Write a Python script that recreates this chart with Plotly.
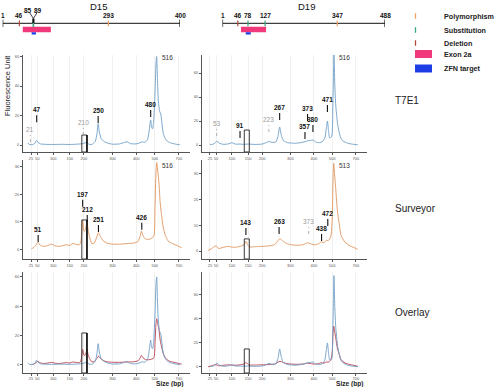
import numpy as np
import plotly.graph_objects as go

W, H = 499, 387

# ---------------- size ladder (bp -> migration position on the trace axis) ----------------
ladder_bp = [10, 15, 25, 50, 100, 150, 200, 300, 400, 500, 700, 1000]
ladder_pos = [-1.0, 1.0, 4.8, 8.5, 18.1, 28.0, 36.4, 53.6, 67.8, 78.9, 93.3, 110.0]
size_ticks = [25, 50, 100, 150, 200, 300, 400, 500, 700]
size_tick_text = ["25", "50", "100", "150", "200", "300", "400", "500", "700"]

# ---------------- traces (size bp, fluorescence units) ----------------
t7_d15_bp = [20, 22, 25, 30, 40, 47, 52, 60, 75, 100, 125, 150, 175, 190, 200, 210, 218, 228, 240, 246,
             250, 254, 260, 270, 285, 300, 330, 350, 362, 375, 400, 420, 432, 445, 460, 468, 474, 478, 483, 488,
             494, 502, 510, 516, 522, 530, 540, 550, 558, 568, 580, 600, 630, 670, 710]
t7_d15_fu = [1.5, 0.5, 0.3, 0.3, 1.0, 3.2, 2.0, 0.8, 0.5, 0.4, 0.5, 0.4, 0.6, 0.8, 1.2, 1.8, 0.6, 0.4, 2.5, 8,
             14.5, 9, 4.5, 2.5, 1.2, 0.6, 0.8, 1.8, 2.2, 1.0, 0.8, 1.5, 2.2, 1.8, 3.5, 8, 14, 17, 12, 11,
             16, 35, 55, 60, 45, 30, 23, 21, 16, 9, 5.5, 3, 1.5, 0.7, 0.2]

t7_d19_bp = [25, 35, 45, 53, 60, 75, 90, 100, 110, 125, 135, 150, 175, 200, 215, 224, 235, 248, 256, 262,
             268, 276, 290, 320, 345, 362, 373, 385, 396, 410, 430, 448, 460, 468, 474, 480, 486, 497, 505, 510,
             515, 522, 530, 545, 558, 572, 590, 630, 680, 720]
t7_d19_fu = [0.5, 0.5, 1.5, 3.3, 1.5, 0.6, 1.0, 2.0, 0.8, 0.8, 0.6, 0.8, 0.5, 0.8, 2.0, 3.0, 2.2, 2.5, 7, 15,
             8, 3.5, 2.0, 1.5, 2.0, 2.8, 3.5, 3.8, 4.2, 2.5, 2.0, 3.0, 6, 14, 20, 12, 6, 7, 30, 55,
             76, 50, 33, 18, 11, 6, 3.5, 1.5, 0.6, 0.2]

sv_d15_bp = [27, 35, 45, 52, 58, 68, 80, 95, 105, 120, 140, 150, 160, 170, 180, 188, 192, 196, 201, 206,
             211, 215, 220, 228, 236, 244, 251, 258, 268, 280, 300, 330, 360, 390, 410, 420, 428, 436, 448, 465,
             485, 496, 502, 510, 516, 528, 535, 545, 555, 570, 588, 610, 648, 700, 730]
sv_d15_fu = [0.2, 0.5, 1.5, 2.5, 1.6, 1.0, 1.2, 1.8, 1.2, 1.0, 1.6, 1.3, 2.0, 1.8, 1.5, 2.0, 5, 10.5, 6.5, 7,
             10.5, 7, 4.5, 2.0, 2.2, 4.0, 6.0, 4.5, 3.0, 2.2, 1.8, 1.8, 2.0, 2.2, 2.8, 4.5, 6.5, 5.0, 3.8, 3.5,
             4.0, 5, 15, 28, 31.5, 27, 24, 17, 13, 8, 5, 3, 2, 1, 0.5]

sv_d19_bp = [22, 30, 40, 50, 58, 75, 90, 100, 115, 130, 138, 143, 148, 155, 165, 180, 200, 225, 245, 256,
             263, 272, 285, 300, 330, 355, 373, 385, 410, 430, 440, 455, 468, 478, 492, 500, 507, 513, 520, 530,
             545, 558, 575, 608, 650, 700, 720]
sv_d19_fu = [0.2, 0.8, 1.5, 2.0, 1.0, 1.5, 1.8, 1.5, 1.5, 2.0, 2.5, 3.8, 2.5, 1.5, 1.6, 1.7, 1.8, 2.0, 2.5, 4.0,
             4.8, 4.0, 3.0, 2.5, 2.2, 2.5, 3.2, 2.8, 2.4, 3.0, 3.6, 3.2, 4.2, 4.0, 5.5, 12, 28, 34, 30, 24,
             15, 11, 6, 3.4, 2, 1, 0.6]

# ---------------- peak labels: text, size (bp), marker base (FU), grey? ----------------
lab_t7_d15 = [("21", 24, 2.0, True), ("47", 48, 15.5, False), ("210", 198, 6.8, True),
              ("250", 250, 14.9, False), ("480", 478, 19.0, False)]
lab_t7_d19 = [("53", 52, 7.5, True), ("91", 125, 5.8, False), ("223", 224, 10.8, True),
              ("267", 262, 20.8, False), ("357", 362, 5.0, False), ("373", 373, 20.0, False),
              ("380", 396, 10.8, False), ("471", 474, 27.5, False)]
lab_sv_d15 = [("51", 53, 2.6, False), ("197", 196, 15.4, False), ("212", 212, 9.9, False),
              ("251", 251, 6.2, False), ("426", 430, 7.0, False)]
lab_sv_d19 = [("143", 143, 6.2, False), ("263", 260, 6.6, False), ("373", 378, 6.6, True),
              ("438", 442, 3.9, False), ("472", 476, 9.7, False)]
top_peak = {1: ("516", 516, 59), 2: ("516", 516, 73), 3: ("516", 516, 30.4), 4: ("513", 513, 33)}

# ZFN cut-site window (bp) and box heights (FU) per panel
box_d15_bp = [193, 211]
box_d19_bp = [138, 154]
box_top = {1: 6.8, 2: 12.5, 3: 10.6, 4: 4.7, 5: 21.8, 6: 15.0}

# ---------------- amplicon schematics ----------------
d15_nt_scale = [1, 46, 87, 293, 400]
d15_draw_scale = [0, 9.4, 17.3, 59.6, 100]
d15_sites = [(46, "del"), (293, "poly")]
d15_exon = [56, 135]
d15_zfn = [82, 94]
d15_labels = ["1", "46", "293", "400"]
d15_label_nt = [1, 46, 293, 400]

d19_nt_scale = [1, 46, 78, 127, 347, 488]
d19_draw_scale = [0, 9.4, 15.7, 26.2, 70.6, 100]
d19_sites = [(46, "del"), (78, "sub"), (127, "sub"), (347, "poly")]
d19_exon = [56, 130]
d19_zfn = [71, 86]
d19_labels = ["1", "46", "78", "127", "347", "488"]
d19_label_nt = [1, 46, 78, 127, 347, 488]

C_T7 = "#6e9ec6"
C_SV = "#e0955c"
C_OV_RED = "#b8404f"
C_POLY = "#f0a264"
C_SUB = "#3aa87a"
C_DEL = "#b24a3c"
C_EXON = "#f0387a"
C_ZFN = "#1c3de6"
SITE_COL = {"poly": C_POLY, "sub": C_SUB, "del": C_DEL}
FONT = "Liberation Sans, Arial, sans-serif"


def pos(bp):
    return np.interp(bp, ladder_bp, ladder_pos)


def pxx(x):
    return x / W


def pxy(y):
    return 1 - y / H


def paper_text(x, y, text, size, color="#222", xanchor="center", **kw):
    return dict(x=pxx(x), y=pxy(y), xref="paper", yref="paper", text=text, showarrow=False,
                xanchor=xanchor, yanchor="middle", font=dict(size=size, color=color, family=FONT), **kw)


fig = go.Figure()

# panel geometry (pixels)
col_x = {0: (23, 190), 1: (202, 367)}
row_y = {0: (55, 152), 1: (160, 259), 2: (272, 373)}
yranges = {1: [-4.7, 61], 2: [-5.8, 75], 3: [-3.6, 32.4], 4: [-3.1, 35.3], 5: [-5.5, 63.4], 6: [-5, 79]}
yticks = {1: [0, 20, 40, 60], 2: [0, 20, 40, 60], 3: [0, 10, 20, 30], 4: [0, 10, 20, 30],
          5: [0, 20, 40, 60], 6: [0, 20, 40, 60]}

panels = {
    1: [(t7_d15_bp, t7_d15_fu, C_T7)],
    2: [(t7_d19_bp, t7_d19_fu, C_T7)],
    3: [(sv_d15_bp, sv_d15_fu, C_SV)],
    4: [(sv_d19_bp, sv_d19_fu, C_SV)],
    5: [(sv_d15_bp, sv_d15_fu, C_OV_RED), (t7_d15_bp, t7_d15_fu, C_T7)],
    6: [(sv_d19_bp, sv_d19_fu, C_OV_RED), (t7_d19_bp, t7_d19_fu, C_T7)],
}
labels = {1: lab_t7_d15, 2: lab_t7_d19, 3: lab_sv_d15, 4: lab_sv_d19}

layout = dict(width=W, height=H, margin=dict(l=0, r=0, t=0, b=0),
              paper_bgcolor="white", plot_bgcolor="white", showlegend=False,
              font=dict(family=FONT))
shapes = []
annotations = []

for i in range(1, 7):
    r = (i - 1) // 2
    c = (i - 1) % 2
    xs = "" if i == 1 else str(i)
    x0p, x1p = col_x[c]
    y0p, y1p = row_y[r]
    layout["xaxis" + xs] = dict(domain=[pxx(x0p), pxx(x1p)], range=[0, 100], anchor="y" + xs,
                                tickvals=list(pos(size_ticks)), ticktext=size_tick_text, tickangle=0,
                                showline=True, linecolor="#555", linewidth=1, ticks="outside",
                                ticklen=2, tickcolor="#555", tickfont=dict(size=4, color="#555"),
                                ticklabelstandoff=-1 if r == 2 else 0,
                                showgrid=True, gridcolor="#f0f0f0", gridwidth=1, zeroline=False)
    layout["yaxis" + xs] = dict(domain=[pxy(y1p), pxy(y0p)], range=yranges[i], anchor="x" + xs,
                                tickvals=yticks[i], showline=True, linecolor="#555", linewidth=1,
                                ticks="outside", ticklen=2, tickcolor="#555",
                                tickfont=dict(size=4, color="#555"), showgrid=False, zeroline=False)
    for bp, fu, col in panels[i]:
        fig.add_trace(go.Scatter(x=pos(bp), y=fu, mode="lines", xaxis="x" + xs, yaxis="y" + xs,
                                 line=dict(color=col, width=0.9, shape="spline", smoothing=0.6),
                                 hoverinfo="skip"))
    # ZFN box
    bb = box_d15_bp if c == 0 else box_d19_bp
    shapes.append(dict(type="rect", xref="x" + xs, yref="y" + xs, x0=float(pos(bb[0])),
                       x1=float(pos(bb[1])), y0=yranges[i][0], y1=box_top[i],
                       line=dict(color="#222", width=0.9)))
    if c == 0:
        shapes.append(dict(type="line", xref="x" + xs, yref="y" + xs, x0=float(pos(bb[1])),
                           x1=float(pos(bb[1])), y0=yranges[i][0], y1=box_top[i],
                           line=dict(color="#111", width=1.6)))
    # peak labels
    if i in labels:
        for txt, bp, yb, grey in labels[i]:
            col = "#9a9a9a" if grey else "#111"
            shapes.append(dict(type="line", xref="x" + xs, yref="y" + xs, ysizemode="pixel",
                               yanchor=yb, x0=float(pos(bp)), x1=float(pos(bp)), y0=0, y1=7,
                               line=dict(color=col, width=1.1 if not grey else 0.8,
                                         dash="dot" if grey else "solid")))
            annotations.append(dict(x=float(pos(bp)), y=yb, xref="x" + xs, yref="y" + xs,
                                    text=txt if grey else "<b>" + txt + "</b>",
                                    showarrow=False, xanchor="center", yanchor="bottom", yshift=7,
                                    font=dict(size=6.5, color=col, family=FONT)))
        txt, bp, yv = top_peak[i]
        annotations.append(dict(x=float(pos(bp)), y=yv, xref="x" + xs, yref="y" + xs, text=txt,
                                showarrow=False, xanchor="left", xshift=3, yanchor="middle",
                                font=dict(size=6.5, color="#333", family=FONT)))

# ---------------- amplicon schematics ----------------
gene_defs = [
    (7, "D15", (2.7, 180), d15_nt_scale, d15_draw_scale, d15_sites, d15_exon, d15_zfn,
     d15_labels, d15_label_nt, 98),
    (8, "D19", (222.5, 385), d19_nt_scale, d19_draw_scale, d19_sites, d19_exon, d19_zfn,
     d19_labels, d19_label_nt, 306),
]
for k, name, (gx0, gx1), nts, drw, sites, exon, zfn, glabs, glab_nt, title_x in gene_defs:
    xs = str(k)
    layout["xaxis" + xs] = dict(domain=[pxx(gx0), pxx(gx1)], range=[0, 100], visible=False,
                                anchor="y" + xs, fixedrange=True)
    layout["yaxis" + xs] = dict(domain=[pxy(45), 1], range=[-45, 0], visible=False,
                                anchor="x" + xs, fixedrange=True)

    def gp(nt, nts=nts, drw=drw):
        return float(np.interp(nt, nts, drw))

    xr, yr = "x" + xs, "y" + xs
    shapes.append(dict(type="line", xref=xr, yref=yr, x0=gp(nts[0]), x1=gp(nts[-1]), y0=-23.3, y1=-23.3,
                       line=dict(color="#111", width=1)))
    for e in (nts[0], nts[-1]):
        shapes.append(dict(type="line", xref=xr, yref=yr, x0=gp(e), x1=gp(e), y0=-19.5, y1=-27,
                           line=dict(color="#111", width=1.2)))
    shapes.append(dict(type="rect", xref=xr, yref=yr, x0=gp(exon[0]), x1=gp(exon[1]), y0=-26.8,
                       y1=-32.3, fillcolor=C_EXON, line=dict(width=0)))
    shapes.append(dict(type="rect", xref=xr, yref=yr, x0=gp(zfn[0]), x1=gp(zfn[1]), y0=-32.3,
                       y1=-34.6, fillcolor=C_ZFN, line=dict(width=0)))
    for nt, kind in sites:
        shapes.append(dict(type="line", xref=xr, yref=yr, x0=gp(nt), x1=gp(nt), y0=-20.5, y1=-26.2,
                           line=dict(color=SITE_COL[kind], width=1.2)))
    for t, nt in zip(glabs, glab_nt):
        annotations.append(dict(x=gp(nt), y=-15, xref=xr, yref=yr, text="<b>" + t + "</b>",
                                showarrow=False, xanchor="center", yanchor="middle",
                                font=dict(size=6.5, color="#111", family=FONT)))
    annotations.append(paper_text(title_x, 6, name, 9.5, "#111"))

# D15 85/89 substitutions (converging pointer)
sub_a, sub_b = 85, 89
mid = (sub_a + sub_b) / 2
gx = float(np.interp(mid, d15_nt_scale, d15_draw_scale))
for dx in (-3.5, 3.5):
    shapes.append(dict(type="line", xref="x7", yref="y7", xsizemode="pixel", xanchor=gx,
                       x0=dx, x1=0, y0=-13, y1=-18.5, line=dict(color="#111", width=0.8)))
shapes.append(dict(type="line", xref="x7", yref="y7", x0=gx, x1=gx, y0=-18.5, y1=-23.5,
                   line=dict(color="#111", width=2.2)))
shapes.append(dict(type="line", xref="x7", yref="y7", x0=gx, x1=gx, y0=-23, y1=-27,
                   line=dict(color=C_SUB, width=1.6)))
for t, sh in ((str(sub_a), -5), (str(sub_b), 5)):
    annotations.append(dict(x=gx, y=-10, xref="x7", yref="y7", text="<b>" + t + "</b>", showarrow=False,
                            xanchor="center", yanchor="middle", xshift=sh,
                            font=dict(size=6.5, color="#111", family=FONT)))

# ---------------- key ----------------
key_items = [("Polymorphism", "tick", C_POLY, 16), ("Substitution", "tick", C_SUB, 30),
             ("Deletion", "tick", C_DEL, 43), ("Exon 2a", "rect", C_EXON, 54),
             ("ZFN target", "rect", C_ZFN, 68.5)]
for name, kind, col, yc in key_items:
    if kind == "tick":
        shapes.append(dict(type="line", xref="paper", yref="paper", x0=pxx(415.5), x1=pxx(415.5),
                           y0=pxy(yc - 2.8), y1=pxy(yc + 2.8), line=dict(color=col, width=1.3)))
    else:
        shapes.append(dict(type="rect", xref="paper", yref="paper", x0=pxx(415), x1=pxx(432),
                           y0=pxy(yc + 4), y1=pxy(yc - 4), fillcolor=col, line=dict(width=0)))
    annotations.append(paper_text(442, yc, "<b>" + name + "</b>", 7.2, "#222", xanchor="left"))

# row labels
for name, yc in (("T7E1", 101), ("Surveyor", 208), ("Overlay", 312)):
    annotations.append(paper_text(393, yc, name, 10, "#222", xanchor="left"))

# axis titles
annotations.append(paper_text(7, 86, "Fluorescence Unit", 7.5, "#222", textangle=-90))
for xc in (169, 349):
    annotations.append(paper_text(xc, 384, "<b>Size (bp)</b>", 6.6, "#222"))

layout["shapes"] = shapes
layout["annotations"] = annotations
fig.update_layout(**layout)
fig.write_html("out.html", config={"displayModeBar": False},
               post_script="document.body.style.margin='0';document.body.style.overflow='hidden';")
